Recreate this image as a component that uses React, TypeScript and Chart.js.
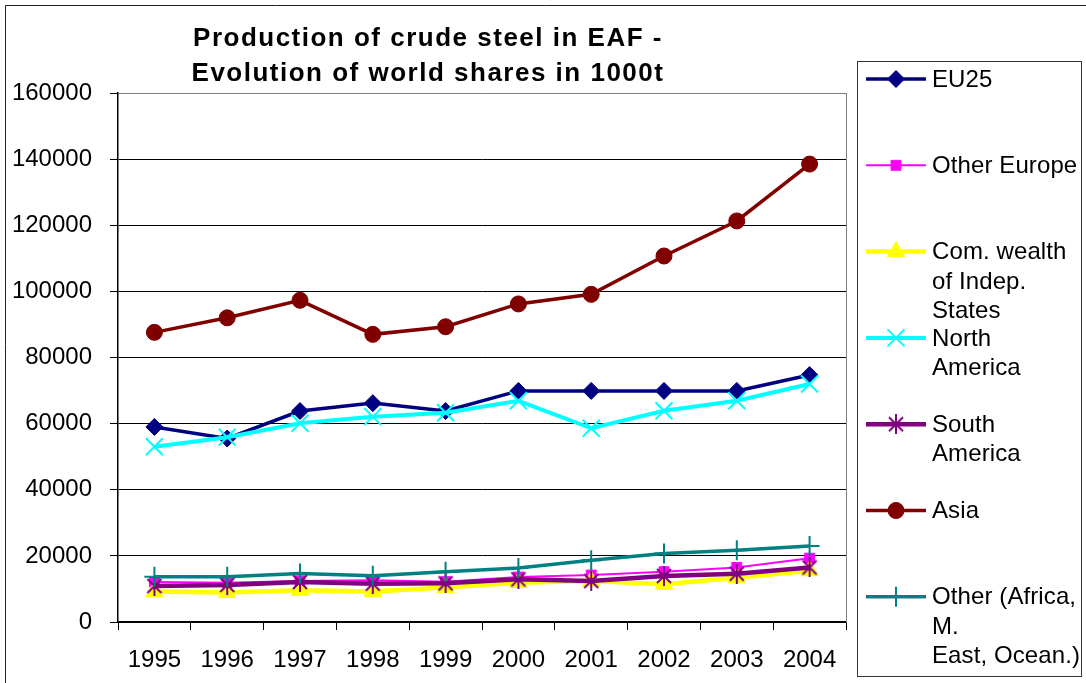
import React, { useEffect, useRef } from 'react';
import { Chart, registerables } from 'chart.js';
import { drawPoint } from 'chart.js/helpers';

Chart.register(...registerables);

const FONT = "'Liberation Sans', Arial, Helvetica, sans-serif";

const years = ['1995', '1996', '1997', '1998', '1999', '2000', '2001', '2002', '2003', '2004'];
const yTicks = [0, 20000, 40000, 60000, 80000, 100000, 120000, 140000, 160000];

const eu25 = [59000, 55500, 63800, 66200, 63800, 69900, 69900, 69900, 69900, 74700];
const otherEurope = [12100, 11900, 12400, 12600, 12200, 13600, 14200, 15200, 16500, 19300];
const cis = [9200, 8900, 9600, 9200, 10400, 11900, 12400, 11400, 13400, 15500];
const northAmerica = [53000, 55900, 60100, 62100, 63300, 66900, 58600, 63900, 66900, 72000];
const southAmerica = [10900, 11200, 12100, 11600, 11700, 12900, 12400, 13900, 14600, 16500];
const asia = [87600, 92000, 97300, 87000, 89300, 96200, 99100, 110700, 121300, 138500];
const other = [13700, 13700, 14700, 14000, 15200, 16300, 18700, 20700, 21700, 23000];

const titleLines = ['Production of crude steel in EAF -', 'Evolution of world shares in 1000t'];
const legendLines = [
  ['EU25'],
  ['Other Europe'],
  ['Com. wealth', 'of Indep.', 'States'],
  ['North', 'America'],
  ['South', 'America'],
  ['Asia'],
  ['Other (Africa,', 'M.', 'East, Ocean.)'],
];

function makeAsterisk(color: string) {
  const c = document.createElement('canvas');
  c.width = 18;
  c.height = 20;
  const g = c.getContext('2d')!;
  g.strokeStyle = color;
  g.lineWidth = 2;
  g.beginPath();
  g.moveTo(2, 3);
  g.lineTo(16, 17);
  g.moveTo(16, 3);
  g.lineTo(2, 17);
  g.moveTo(9, 0);
  g.lineTo(9, 20);
  g.stroke();
  return c;
}

const decorPlugin = {
  id: 'decor',
  beforeDraw(chart: any) {
    const ctx = chart.ctx;
    ctx.save();
    ctx.fillStyle = '#fff';
    ctx.fillRect(0, 0, chart.width, chart.height);
    ctx.restore();
  },
  afterDraw(chart: any) {
    const ctx = chart.ctx;
    const area = chart.chartArea;
    ctx.save();
    // outer frame
    ctx.strokeStyle = '#222';
    ctx.lineWidth = 1;
    ctx.beginPath();
    ctx.moveTo(5.5, chart.height);
    ctx.lineTo(5.5, 5.5);
    ctx.lineTo(chart.width, 5.5);
    ctx.stroke();
    // right border of plot area
    ctx.strokeStyle = '#808080';
    ctx.beginPath();
    ctx.moveTo(Math.round(area.right) + 0.5, area.top);
    ctx.lineTo(Math.round(area.right) + 0.5, area.bottom);
    ctx.stroke();
    // title
    ctx.fillStyle = '#000';
    ctx.font = `bold 26px ${FONT}`;
    (ctx as any).letterSpacing = '1.5px';
    ctx.textAlign = 'center';
    ctx.textBaseline = 'middle';
    titleLines.forEach((t, i) => ctx.fillText(t, 428, 39 + i * 35));
    (ctx as any).letterSpacing = '0px';
    // legend
    ctx.strokeStyle = '#333';
    ctx.lineWidth = 1;
    ctx.strokeRect(857.5, 61.5, 224, 615);
    ctx.font = `24px ${FONT}`;
    (ctx as any).letterSpacing = '0.1px';
    ctx.textAlign = 'left';
    chart.data.datasets.forEach((ds: any, i: number) => {
      const y = 79 + i * 86.3;
      ctx.strokeStyle = ds.borderColor;
      ctx.lineWidth = ds.borderWidth;
      ctx.beginPath();
      ctx.moveTo(866, y);
      ctx.lineTo(926, y);
      ctx.stroke();
      ctx.fillStyle = ds.pointBackgroundColor;
      ctx.strokeStyle = ds.pointBorderColor;
      ctx.lineWidth = ds.pointBorderWidth;
      drawPoint(ctx, {
        pointStyle: ds.pointStyle,
        rotation: 0,
        radius: ds.pointRadius,
        borderWidth: ds.pointBorderWidth,
      } as any, 896, y);
      ctx.fillStyle = '#000';
      legendLines[i].forEach((line, k) => ctx.fillText(line, 932, y + 1 + k * 29.5));
    });
    ctx.restore();
  },
};

export default function App() {
  const ref = useRef<HTMLCanvasElement | null>(null);

  useEffect(() => {
    if (!ref.current) return;
    const star = makeAsterisk('#800080');
    const mk = (label: string, data: number[], color: string, width: number, style: any, radius: number, pbw: number, order: number) => ({
      label,
      data,
      borderColor: color,
      backgroundColor: color,
      borderWidth: width,
      pointStyle: style,
      pointRadius: radius,
      pointHoverRadius: radius,
      pointBorderWidth: pbw,
      pointBackgroundColor: color,
      pointBorderColor: color,
      tension: 0,
      fill: false,
      order,
    });
    const chart = new Chart(ref.current, {
      type: 'line',
      data: {
        labels: years,
        datasets: [
          mk(legendLines[0].join(' '), eu25, '#000080', 3.5, 'rectRot', 8.5, 1, 7),
          mk(legendLines[1].join(' '), otherEurope, '#FF00FF', 2, 'rect', 7, 1, 6),
          mk(legendLines[2].join(' '), cis, '#FFFF00', 4.5, 'triangle', 10, 1, 5),
          mk(legendLines[3].join(' '), northAmerica, '#00FFFF', 4, 'crossRot', 12, 2, 4),
          mk(legendLines[4].join(' '), southAmerica, '#800080', 4.5, star, 9, 2, 3),
          mk(legendLines[5].join(' '), asia, '#800000', 3.5, 'circle', 8, 1, 2),
          mk(legendLines[6].join(' '), other, '#008080', 3.5, 'cross', 10, 2, 1),
        ],
      },
      options: {
        animation: false,
        responsive: false,
        devicePixelRatio: 1,
        events: [],
        layout: { padding: { left: 0, top: 93, right: 240, bottom: 0 } },
        plugins: {
          legend: { display: false },
          title: { display: false },
          tooltip: { enabled: false },
        },
        scales: {
          x: {
            type: 'category',
            offset: true,
            afterFit: (s: any) => { s.height = 61; },
            grid: {
              offset: true,
              drawOnChartArea: false,
              drawTicks: true,
              tickLength: 8,
              color: '#000',
              tickColor: '#000',
            },
            border: { display: true, color: '#000', width: 1.5 },
            ticks: {
              font: { family: FONT, size: 24 },
              color: '#000',
              padding: 16,
              maxRotation: 0,
              autoSkip: false,
            },
          },
          y: {
            min: 0,
            max: 160000,
            afterFit: (s: any) => { s.width = 118; },
            afterBuildTicks: (s: any) => { s.ticks = yTicks.map((v) => ({ value: v })); },
            grid: {
              color: (c: any) => (c.tick && c.tick.value === 160000 ? '#808080' : '#000'),
              tickColor: '#000',
              lineWidth: 1,
              drawTicks: true,
              tickLength: 8,
            },
            border: { display: true, color: '#000', width: 1.5 },
            ticks: {
              font: { family: FONT, size: 24 },
              color: '#000',
              padding: 18,
              callback: (v: any) => String(v),
            },
          },
        },
      },
      plugins: [decorPlugin],
    } as any);
    return () => chart.destroy();
  }, []);

  return (
    <div style={{ position: 'fixed', left: 0, top: 0, width: 1086, height: 683, background: '#fff' }}>
      <canvas ref={ref} width={1086} height={683} style={{ display: 'block', width: 1086, height: 683 }} />
    </div>
  );
}
